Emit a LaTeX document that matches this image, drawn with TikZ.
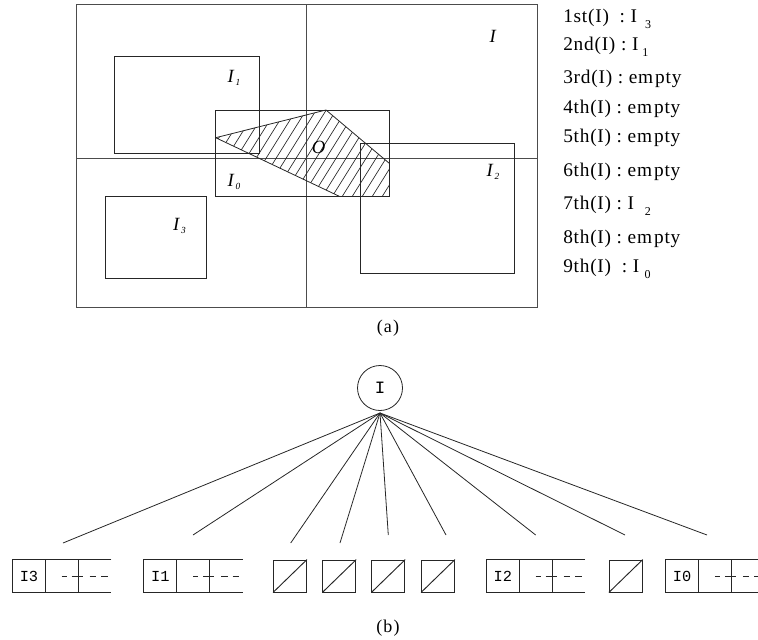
\documentclass[tikz,border=0pt]{standalone}
\usepackage{fontspec}
\setmainfont{Liberation Serif}
\setmonofont{Liberation Mono}
\newfontfamily\listfont[LetterSpace=4]{Liberation Serif}
\newfontfamily\capfont[LetterSpace=6]{Liberation Serif}
\usetikzlibrary{calc}

% italic region label with a small lowered index
\newcommand{\reglab}[2]{{\itshape #1\kern1.4pt\raisebox{-2.8pt}{\fontsize{7}{8}\selectfont #2}}}
% index in the ordering list
\newcommand{\listsub}[1]{\raisebox{-4.5pt}{\fontsize{9}{10}\selectfont #1}}

\tikzset{
  frame/.style={draw=black!70, line width=0.7pt},
  box/.style={draw=black!85, line width=0.6pt},
  hatch/.style={draw=black!85, line width=0.5pt},
  reglabel/.style={inner sep=0pt, font=\fontsize{14}{16}\selectfont},
  listline/.style={anchor=base west, inner sep=0pt, font=\listfont\fontsize{14.5}{16}\selectfont},
  caption/.style={inner sep=0pt, font=\capfont\fontsize{13.5}{15}\selectfont},
  root/.style={circle, draw=black!85, line width=0.6pt, minimum size=33.75pt, inner sep=0pt, font=\ttfamily\fontsize{13}{15}\selectfont},
  rec/.style={minimum width=73.7pt, minimum height=24pt, inner sep=0pt},
  recline/.style={draw=black!85, line width=0.7pt},
  recdash/.style={draw=black!85, line width=0.7pt,
    dash pattern=on 3.75pt off 3.75pt on 8.5pt off 5pt on 5pt off 3.75pt on 5pt},
  reclabel/.style={inner sep=0pt, font=\ttfamily\fontsize{11.5}{13}\selectfont},
  nilbox/.style={draw=black!85, line width=0.7pt, minimum width=24.75pt, minimum height=24pt, inner sep=0pt},
  conn/.style={draw=black!85, line width=0.6pt}
}

\begin{document}
\begin{tikzpicture}[x=0.75pt, y=-0.75pt]
\useasboundingbox (0,0) rectangle (758,640);

% ---------- (a) space partition ----------
\draw[frame] (76,4) rectangle (537.7,307);
\draw[frame] (306.7,4) -- (306.7,307);
\draw[frame] (76,158) -- (537.7,158);

\draw[box] (114.3,56.3) rectangle (259.3,153.3);   % I1
\draw[box] (215.7,110) rectangle (389.3,196.3);    % I0
\draw[box] (360.3,143.3) rectangle (514.3,273.7);  % I2
\draw[box] (105.3,196.3) rectangle (206.3,278);    % I3

% hatched object O
\coordinate (pA) at (215.7,137.7);
\coordinate (pB) at (326,110);
\coordinate (pC) at (389.3,163.3);
\coordinate (pD) at (389.3,196.3);
\coordinate (pE) at (339.3,196.3);
\begin{scope}
  \clip (pA) -- (pB) -- (pC) -- (pD) -- (pE) -- cycle;
  \foreach \x in {150,160,...,400}
    \draw[hatch] (\x,200) -- ++(62.5,-100);
\end{scope}
\draw[box] (pA) -- (pB) -- (pC);
\draw[box] (pA) -- (pE);

\node[reglabel] (lI)  at (492.7,36)  {\itshape I};
\node[reglabel] (lI1) at (234,78)    {\reglab{I}{1}};
\node[reglabel] (lI0) at (234,182)   {\reglab{I}{0}};
\node[reglabel] (lI2) at (493,172)   {\reglab{I}{2}};
\node[reglabel] (lI3) at (179.5,226) {\reglab{I}{3}};
\node[reglabel] (lO)  at (318.5,147.5) {\itshape O};

% ordering list
\node[listline] (o1) at (563,22)  {1st(I)\hspace{8pt}: I\hspace{6pt}\listsub{3}};
\node[listline] (o2) at (563,50)  {2nd(I) : I\hspace{3pt}\listsub{1}};
\node[listline] (o3) at (563,83)  {3rd(I) : em\hspace{1.5pt}pty};
\node[listline] (o4) at (563,113) {4th(I) : em\hspace{1.5pt}pty};
\node[listline] (o5) at (563,142) {5th(I) : em\hspace{1.5pt}pty};
\node[listline] (o6) at (563,176) {6th(I) : em\hspace{1.5pt}pty};
\node[listline] (o7) at (563,209) {7th(I) : I\hspace{8pt}\listsub{2}};
\node[listline] (o8) at (563,243) {8th(I) : em\hspace{1.5pt}pty};
\node[listline] (o9) at (563,272) {9th(I)\hspace{8pt}: I\hspace{4pt}\listsub{0}};

\node[caption] (capa) at (388,328) {(a)};

% ---------- (b) tree ----------
\node[root] (root) at (380,388) {I};
\coordinate (hub) at (380,413);

% records with an entry and a continued list
\foreach \n/\cx in {I3/61.9, I1/193.2, I2/535.8, I0/715} {
  \node[rec] (r\n) at (\cx,576) {};
  \draw[recline] (r\n.north east) -- (r\n.north west) -- (r\n.south west) -- (r\n.south east);
  \draw[recline] ($(r\n.north west)!1/3!(r\n.north east)$) -- ($(r\n.south west)!1/3!(r\n.south east)$);
  \draw[recline] ($(r\n.north west)!2/3!(r\n.north east)$) -- ($(r\n.south west)!2/3!(r\n.south east)$);
  \draw[recdash] ($(r\n.west)!0.498!(r\n.east)$) -- ($(r\n.west)!0.972!(r\n.east)$);
  \node[reclabel] (t\n) at ($(r\n.west)!1/6!(r\n.east)$) {\n};
}

% empty children
\foreach \n/\cx in {e3/290, e4/339.3, e5/388.3, e6/438, e8/625.8} {
  \node[nilbox] (\n) at (\cx,576) {};
  \draw[recline] (\n.south west) -- (\n.north east);
}

% connector ends above the children
\coordinate (c1) at (63,543);
\coordinate (c2) at (193,535);
\coordinate (c3) at (290.7,543);
\coordinate (c4) at (340,543);
\coordinate (c5) at (388.3,535);
\coordinate (c6) at (446,535);
\coordinate (c7) at (535.7,535);
\coordinate (c8) at (625,535);
\coordinate (c9) at (707,535);
\foreach \i in {1,...,9}
  \draw[conn] (hub) -- (c\i);

\node[caption] (capb) at (388,628) {(b)};
\end{tikzpicture}
\end{document}
